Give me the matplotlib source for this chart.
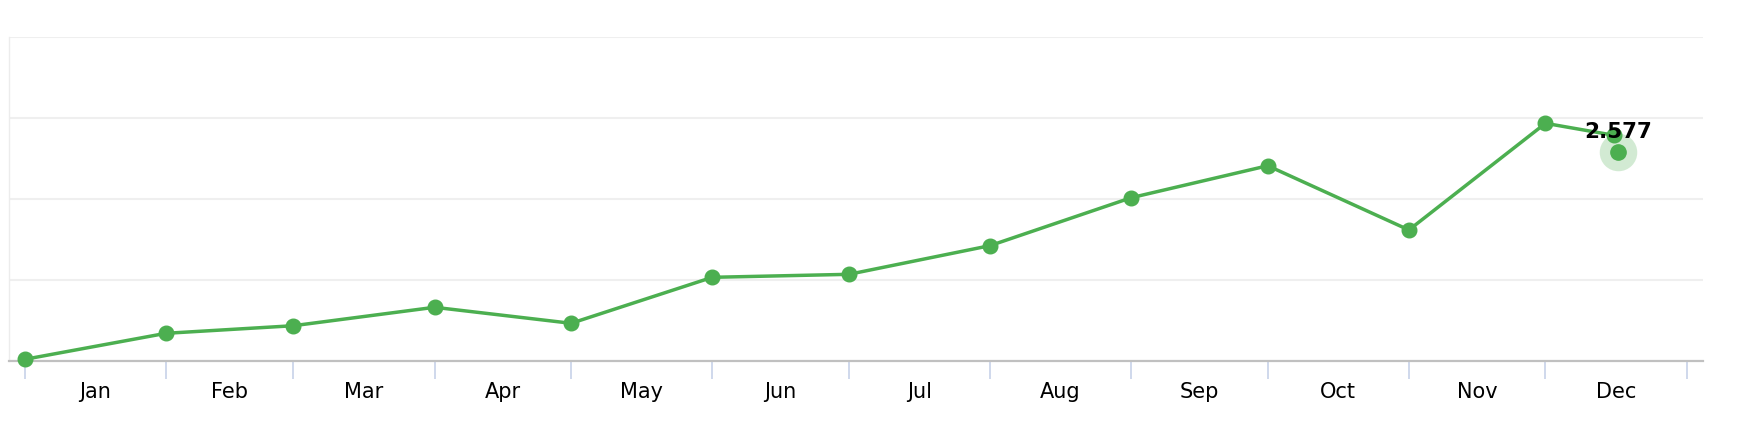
import pandas as pd
import matplotlib.pyplot as plt
import matplotlib.dates as mdates

# data (monthly values, 2023)
line_dates = ['2023-01-01', '2023-02-01', '2023-03-01', '2023-04-01', '2023-05-01',
              '2023-06-01', '2023-07-01', '2023-08-01', '2023-09-01', '2023-10-01',
              '2023-11-01', '2023-12-01', '2023-12-16']
line_values = [0.017, 0.339, 0.433, 0.661, 0.463, 1.032, 1.069, 1.424, 2.017,
               2.413, 1.618, 2.938, 2.79]
hover_date = '2023-12-17'
hover_value = 2.577
month_names = ['Jan', 'Feb', 'Mar', 'Apr', 'May', 'Jun',
               'Jul', 'Aug', 'Sep', 'Oct', 'Nov', 'Dec']

green = '#4caf50'

dates = pd.to_datetime(line_dates)
hover_x = pd.Timestamp(hover_date)
month_starts = pd.date_range('2023-01-01', '2024-01-01', freq='MS')
month_mids = month_starts[:-1] + (month_starts[1:] - month_starts[:-1]) / 2

fig = plt.figure(figsize=(17.4, 4.36), dpi=100)
ax = fig.add_axes([0.00534, 0.1727, 0.9734, 0.7413])

ax.plot(dates, line_values, color=green, linewidth=2.5, marker='o',
        markersize=10.5, clip_on=False, zorder=3)
# hovered point with halo
ax.plot([hover_x], [hover_value], 'o', color=green, alpha=0.25,
        markersize=27, markeredgewidth=0, clip_on=False, zorder=4)
ax.plot([hover_x], [hover_value], 'o', color=green, markersize=11,
        clip_on=False, zorder=5)
ax.annotate('{:.3f}'.format(hover_value), (hover_x, hover_value),
            xytext=(0, 14.5), textcoords='offset points', ha='center',
            va='center', fontsize=15.5, fontweight='bold', color='black',
            zorder=6)

ax.set_xlim(month_starts[0] - pd.Timedelta(days=3.4),
            month_starts[-1] + pd.Timedelta(days=3.6))
ax.set_ylim(0, 4)

ax.set_yticks([0, 1, 2, 3, 4])
ax.set_yticklabels([])
ax.tick_params(axis='y', length=0)
ax.grid(axis='y', color='#efefef', linewidth=1.5)
ax.set_axisbelow(True)

ax.set_xticks(month_starts)
ax.set_xticklabels([])
ax.tick_params(axis='x', which='major', length=13, width=1.3, color='#ccd6eb')
ax.set_xticks(month_mids, minor=True)
ax.set_xticklabels(month_names, minor=True, fontsize=15)
ax.tick_params(axis='x', which='minor', length=0, pad=15)

for s in ['top', 'right']:
    ax.spines[s].set_visible(False)
ax.spines['left'].set_color('#ececec')
ax.spines['left'].set_linewidth(1)
ax.spines['bottom'].set_color('#c0c0c0')
ax.spines['bottom'].set_linewidth(1.6)

plt.savefig('out.png', dpi=100)
